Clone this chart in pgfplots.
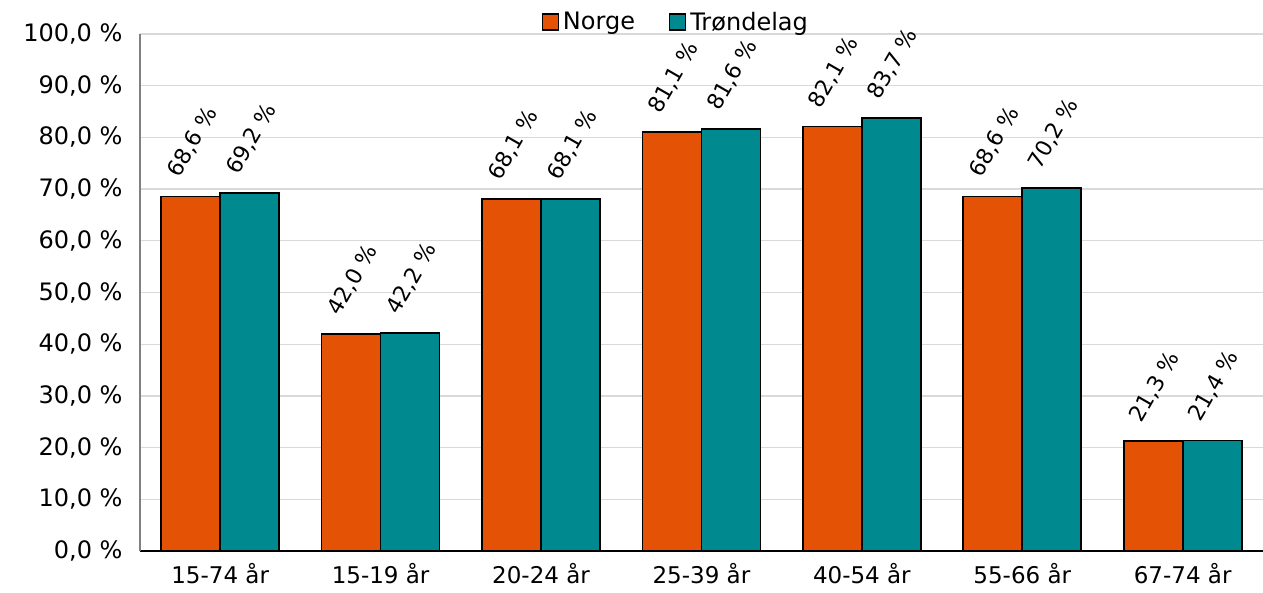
\documentclass[border=0pt]{standalone}
\usepackage{pgfplots}
\pgfplotsset{compat=1.18}
\usepackage{fontspec}
\setmainfont{DejaVu Sans}
\definecolor{norge}{RGB}{227,82,5}
\definecolor{trond}{RGB}{0,137,143}
\definecolor{gridg}{RGB}{217,217,217}
\begin{document}
\begin{tikzpicture}
\path[use as bounding box] (-140pt,-42pt) rectangle (1123pt,551pt);
\begin{axis}[
  at={(0pt,0pt)}, anchor=south west,
  scale only axis, width=1123pt, height=517pt,
  ybar=0pt, bar width=59pt,
  xmin=-0.5, xmax=6.5, ymin=0, ymax=100,
  xtick=data,
  xticklabels={15-74 år,15-19 år,20-24 år,25-39 år,40-54 år,55-66 år,67-74 år},
  ytick={0,10,...,100},
  major tick length=0pt,
  axis x line*=bottom, axis y line*=left,
  x axis line style={black, line width=1.3pt, -},
  y axis line style={gray, line width=1.2pt, -},
  ymajorgrids, grid style={gridg, line width=1.3pt},
  /pgf/number format/assume math mode=true,
  yticklabel={\pgfmathprintnumber[fixed,fixed zerofill,precision=1,use comma]{\tick}~\%},
  tick label style={font=\fontsize{23}{26}\selectfont},
  yticklabel style={xshift=-14pt, font=\fontsize{24}{27}\selectfont},
  xticklabel style={yshift=-9pt},
  nodes near coords={\pgfmathprintnumber[fixed,fixed zerofill,precision=1,use comma]{\pgfplotspointmeta}~\%},
  nodes near coords style={font=\fontsize{22}{25}\selectfont, inner sep=0pt, xshift=-9pt, yshift=15pt, rotate=60, anchor=south west},
  legend style={at={(0.478,1.0)}, anchor=center, yshift=12pt, draw=none, fill=none, legend columns=2,
    font=\fontsize{24}{27}\selectfont, /tikz/every even column/.append style={column sep=30pt},
    inner sep=0pt, nodes={inner sep=4pt}},
  legend image code/.code={\draw[#1, draw=black, line width=1.3pt] (-3pt,-8pt) rectangle (13pt,8pt);},
  clip=false,
]
\addplot[fill=norge, draw=black, line width=1.6pt] coordinates {(0,68.6) (1,42.0) (2,68.1) (3,81.1) (4,82.1) (5,68.6) (6,21.3)};
\addplot[fill=trond, draw=black, line width=1.6pt] coordinates {(0,69.2) (1,42.2) (2,68.1) (3,81.6) (4,83.7) (5,70.2) (6,21.4)};
\legend{Norge,Trøndelag}
\end{axis}
\end{tikzpicture}
\end{document}
